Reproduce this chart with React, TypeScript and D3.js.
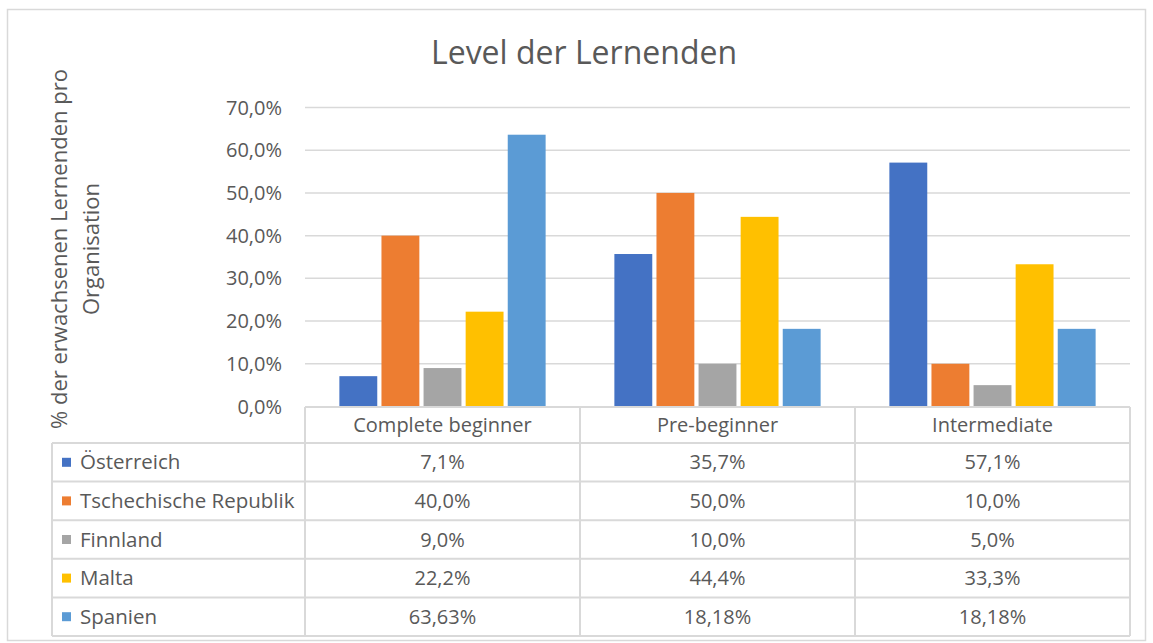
import React, { useEffect, useRef } from "react";
import * as d3 from "d3";

const categories = ["Complete beginner", "Pre-beginner", "Intermediate"];
const seriesNames = ["Österreich", "Tschechische Republik", "Finnland", "Malta", "Spanien"];
const seriesColors = ["#4472C4", "#ED7D31", "#A5A5A5", "#FFC000", "#5B9BD5"];
const oesterreich = [7.1, 35.7, 57.1];
const tschechien = [40.0, 50.0, 10.0];
const finnland = [9.0, 10.0, 5.0];
const malta = [22.2, 44.4, 33.3];
const spanien = [63.63, 18.18, 18.18];
const seriesValues = [oesterreich, tschechien, finnland, malta, spanien];
const seriesDecimals = [1, 1, 1, 1, 2];
const yTicks = [0, 10, 20, 30, 40, 50, 60, 70];

const FONT = "'Open Sans', sans-serif";
const TEXT = "#595959";
const GRID = "#d9d9d9";

const App = () => {
  const ref = useRef<SVGSVGElement>(null);

  useEffect(() => {
    const svg = d3.select(ref.current);
    svg.selectAll("*").remove();

    svg.attr("width", 1153).attr("height", 643);

    // chart border
    svg.append("rect")
      .attr("x", 7.5).attr("y", 9.5)
      .attr("width", 1138).attr("height", 631)
      .attr("fill", "#fff")
      .attr("stroke", GRID)
      .attr("stroke-width", 1.5);

    const plotLeft = 305;
    const plotRight = 1130;
    const tableLeft = 52;

    const y = d3.scaleLinear().domain([0, 70]).range([406.5, 107.5]);

    const x0 = d3.scaleBand()
      .domain(categories)
      .range([plotLeft, plotRight])
      .paddingInner(0.25)
      .paddingOuter(0.125);

    const x1 = d3.scaleBand()
      .domain(seriesNames)
      .range([0, x0.bandwidth()])
      .paddingInner(0.1);

    // title
    svg.append("text")
      .attr("x", 584).attr("y", 64)
      .attr("text-anchor", "middle")
      .attr("font-family", FONT)
      .attr("font-size", 32)
      .attr("fill", TEXT)
      .text("Level der Lernenden");

    // y axis title (two lines)
    const yt = svg.append("text")
      .attr("transform", "translate(0, 249) rotate(-90)")
      .attr("text-anchor", "middle")
      .attr("font-family", FONT)
      .attr("font-size", 22)
      .attr("fill", TEXT);
    yt.append("tspan").attr("x", 0).attr("y", 67).text("% der erwachsenen Lernenden pro");
    yt.append("tspan").attr("x", 0).attr("y", 99).text("Organisation");

    // gridlines + tick labels
    svg.append("g")
      .selectAll("line")
      .data(yTicks.filter(t => t > 0))
      .enter()
      .append("line")
      .attr("x1", plotLeft).attr("x2", plotRight)
      .attr("y1", d => y(d)).attr("y2", d => y(d))
      .attr("stroke", GRID)
      .attr("stroke-width", 1.5);

    svg.append("g")
      .selectAll("text")
      .data(yTicks)
      .enter()
      .append("text")
      .attr("x", 282)
      .attr("y", d => y(d))
      .attr("dy", "0.35em")
      .attr("text-anchor", "end")
      .attr("font-family", FONT)
      .attr("font-size", 20)
      .attr("fill", TEXT)
      .text(d => d.toFixed(1).replace(".", ",") + "%");

    // bars
    const groups = svg.append("g")
      .selectAll("g")
      .data(categories)
      .enter()
      .append("g")
      .attr("transform", d => `translate(${x0(d)},0)`);

    groups.selectAll("rect")
      .data((_, ci) => seriesNames.map((name, si) => ({ name, si, value: seriesValues[si][ci] })))
      .enter()
      .append("rect")
      .attr("x", d => x1(d.name)!)
      .attr("width", x1.bandwidth())
      .attr("y", d => y(d.value))
      .attr("height", d => y(0) - y(d.value))
      .attr("fill", d => seriesColors[d.si]);

    // data table
    const headerTop = 407;
    const rowTop = 443;
    const rowH = 38.6;
    const tableBottom = rowTop + rowH * seriesNames.length;
    const table = svg.append("g");
    const colBounds = categories.map(c => x0(c)! - (x0.step() - x0.bandwidth()) / 2);
    colBounds.push(plotRight);

    // horizontal lines
    table.append("line")
      .attr("x1", plotLeft).attr("x2", plotRight)
      .attr("y1", headerTop).attr("y2", headerTop)
      .attr("stroke", GRID).attr("stroke-width", 2);
    d3.range(seriesNames.length + 1).forEach(i => {
      table.append("line")
        .attr("x1", tableLeft).attr("x2", plotRight)
        .attr("y1", rowTop + rowH * i).attr("y2", rowTop + rowH * i)
        .attr("stroke", GRID).attr("stroke-width", 2);
    });
    // vertical lines
    colBounds.forEach(xv => {
      table.append("line")
        .attr("x1", xv).attr("x2", xv)
        .attr("y1", headerTop).attr("y2", tableBottom)
        .attr("stroke", GRID).attr("stroke-width", 2);
    });
    table.append("line")
      .attr("x1", tableLeft).attr("x2", tableLeft)
      .attr("y1", rowTop).attr("y2", tableBottom)
      .attr("stroke", GRID).attr("stroke-width", 2);

    // header labels
    table.selectAll(".cat")
      .data(categories)
      .enter()
      .append("text")
      .attr("x", d => x0(d)! + x0.bandwidth() / 2)
      .attr("y", (headerTop + rowTop) / 2)
      .attr("dy", "0.35em")
      .attr("text-anchor", "middle")
      .attr("font-family", FONT)
      .attr("font-size", 20)
      .attr("fill", TEXT)
      .text(d => d);

    // legend rows + values
    seriesNames.forEach((name, si) => {
      const cy = rowTop + rowH * si + rowH / 2;
      table.append("rect")
        .attr("x", 62).attr("y", cy - 4.5)
        .attr("width", 9).attr("height", 9)
        .attr("fill", seriesColors[si]);
      table.append("text")
        .attr("x", 80).attr("y", cy)
        .attr("dy", "0.35em")
        .attr("font-family", FONT)
        .attr("font-size", 20.5)
        .attr("fill", TEXT)
        .text(name);
      categories.forEach((c, ci) => {
        table.append("text")
          .attr("x", x0(c)! + x0.bandwidth() / 2)
          .attr("y", cy)
          .attr("dy", "0.35em")
          .attr("text-anchor", "middle")
          .attr("font-family", FONT)
          .attr("font-size", 20)
          .attr("fill", TEXT)
          .text(seriesValues[si][ci].toFixed(seriesDecimals[si]).replace(".", ",") + "%");
      });
    });
  }, []);

  return (
    <div>
      <svg ref={ref} style={{ position: "absolute", left: 0, top: 0, display: "block" }}></svg>
    </div>
  );
};

export default App;
